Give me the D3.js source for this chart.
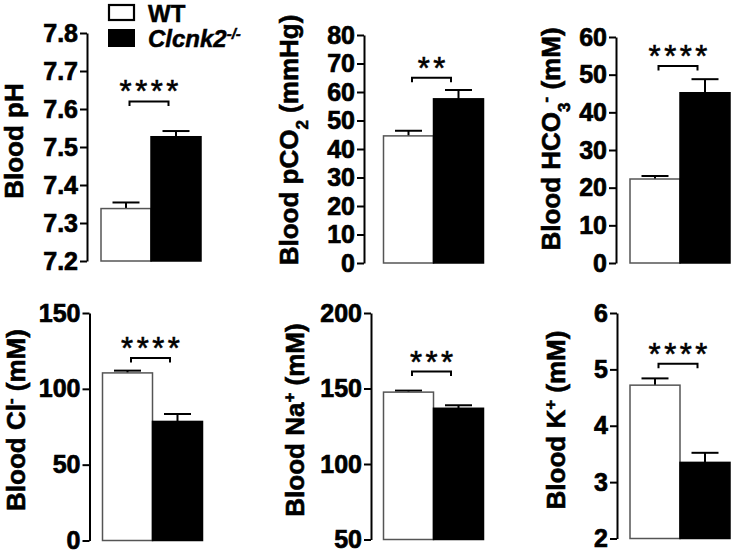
<!DOCTYPE html>
<html>
<head>
<meta charset="utf-8">
<script src="https://cdn.jsdelivr.net/npm/d3@7"></script>
<style>
  body { margin: 0; background: #fff; }
  svg text { font-family: "Liberation Sans", Arial, sans-serif; fill: #000; }
</style>
</head>
<body>
<div id="chart"></div>
<script>
// values (mean, SEM), WT vs Clcnk2-/-
var groups = ["WT", "Clcnk2-/-"];
var titles = [
  [["Blood pH", ""]],
  [["Blood pCO", ""], ["2", "sub"], [" (mmHg)", ""]],
  [["Blood HCO", ""], ["3", "sub"], ["-", "sup"], [" (mM)", ""]],
  [["Blood Cl", ""], ["-", "sup"], [" (mM)", ""]],
  [["Blood Na", ""], ["+", "sup"], [" (mM)", ""]],
  [["Blood K", ""], ["+", "sup"], [" (mM)", ""]]
];
var yDomains = [[7.2, 7.8], [0, 80], [0, 60], [0, 150], [50, 200], [2, 6]];
var yTicks = [
  [7.2, 7.3, 7.4, 7.5, 7.6, 7.7, 7.8],
  [0, 10, 20, 30, 40, 50, 60, 70, 80],
  [0, 10, 20, 30, 40, 50, 60],
  [0, 50, 100, 150],
  [50, 100, 150, 200],
  [2, 3, 4, 5, 6]
];
var wtMean = [7.338, 44.6, 22.3, 110.5, 147.6, 4.72];
var wtSem  = [0.016, 1.8, 0.8, 1.5, 1.0, 0.12];
var koMean = [7.527, 57.6, 45.2, 78.5, 136.9, 3.35];
var koSem  = [0.015, 3.1, 3.6, 4.9, 2.0, 0.17];
var stars = ["****", "**", "****", "****", "***", "****"];
var bracketAt = [7.62, 65, 52.3, 120.3, 161.2, 5.1];

// panel frames (pixel layout)
var frames = [
  {ax: 87,  top: 33,  bottom: 261, bar: 101, tx: 23,  tc: 141},
  {ax: 364, top: 35,  bottom: 263, bar: 383.5, tx: 298, tc: 140},
  {ax: 616, top: 37,  bottom: 263, bar: 630, tx: 560, tc: 139},
  {ax: 89.5, top: 313, bottom: 540.5, bar: 102.5, tx: 25, tc: 420},
  {ax: 371, top: 313, bottom: 539.5, bar: 383.5, tx: 303.5, tc: 420},
  {ax: 617, top: 313, bottom: 538.5, bar: 630, tx: 565, tc: 420}
];

var svg = d3.select("#chart").append("svg")
  .attr("width", 733)
  .attr("height", 552);

function makePanel(i) {
  var f = frames[i];
  var g = svg.append("g");

  var y = d3.scaleLinear().domain(yDomains[i]).range([f.bottom, f.top]);
  var x = d3.scaleBand().domain(groups).range([f.bar, f.bar + 100]).padding(0);
  var fmt = i == 0 ? d3.format(".1f") : d3.format("d");

  var axis = g.append("g")
    .attr("transform", "translate(" + f.ax + ",0)")
    .call(d3.axisLeft(y).tickValues(yTicks[i]).tickFormat(fmt).tickSize(7).tickSizeOuter(0).tickPadding(2));
  axis.select(".domain").attr("stroke-width", 2);
  axis.selectAll(".tick line").attr("stroke-width", 2);
  axis.selectAll(".tick text")
    .style("font-size", "25px")
    .style("font-weight", "bold")
    .attr("fill", "#000")
    .attr("stroke", "#000")
    .attr("stroke-width", 0.7);

  var rows = [
    {key: groups[0], mean: wtMean[i], sem: wtSem[i], fill: "#fff"},
    {key: groups[1], mean: koMean[i], sem: koSem[i], fill: "#000"}
  ];

  // error bars (upper only), drawn under the bars
  rows.forEach(function(d) {
    var cx = x(d.key) + x.bandwidth() / 2;
    g.append("line")
      .attr("x1", cx).attr("x2", cx)
      .attr("y1", y(d.mean)).attr("y2", y(d.mean + d.sem))
      .attr("stroke", "#000").attr("stroke-width", 2);
    g.append("line")
      .attr("x1", cx - 13.5).attr("x2", cx + 13.5)
      .attr("y1", y(d.mean + d.sem)).attr("y2", y(d.mean + d.sem))
      .attr("stroke", "#000").attr("stroke-width", 2);
  });

  g.selectAll("rect.bar")
    .data(rows)
    .enter().append("rect")
    .attr("class", "bar")
    .attr("x", d => x(d.key))
    .attr("y", d => y(d.mean))
    .attr("width", x.bandwidth())
    .attr("height", d => y(yDomains[i][0]) - y(d.mean))
    .attr("fill", d => d.fill)
    .attr("stroke", d => d.fill == "#fff" ? "#555" : "#000")
    .attr("stroke-width", 1.5);

  // significance bracket
  var mid = x(groups[1]);
  var by = y(bracketAt[i]);
  g.append("path")
    .attr("d", "M" + (mid - 21.5) + "," + (by + 4.5) + "V" + by + "H" + (mid + 17.5) + "V" + (by + 4.5))
    .attr("fill", "none")
    .attr("stroke", "#000")
    .attr("stroke-width", 2);
  g.append("text")
    .attr("x", mid - 2 + 1.75)
    .attr("y", by + 1)
    .attr("text-anchor", "middle")
    .style("font-size", "31px")
    .style("letter-spacing", "3.5px")
    .attr("stroke", "#000")
    .attr("stroke-width", 0.6)
    .text(stars[i]);

  // y title
  var t = g.append("text")
    .attr("transform", "translate(" + f.tx + "," + f.tc + ") rotate(-90)")
    .attr("text-anchor", "middle")
    .style("font-size", "26px")
    .style("font-weight", "bold")
    .attr("stroke", "#000")
    .attr("stroke-width", 0.6);
  titles[i].forEach(function(p) {
    var s = t.append("tspan").text(p[0]);
    if (p[1] == "sub") s.attr("baseline-shift", "sub").style("font-size", "17px");
    if (p[1] == "sup") s.attr("baseline-shift", "super").style("font-size", "17px");
    if (p[1] == "") s.attr("baseline-shift", "baseline");
  });
}

for (var i = 0; i < 6; i++) makePanel(i);

// legend
var legend = svg.append("g");
legend.append("rect")
  .attr("x", 109).attr("y", 5).attr("width", 25).attr("height", 15)
  .attr("fill", "#fff").attr("stroke", "#000").attr("stroke-width", 2.2);
legend.append("rect")
  .attr("x", 108).attr("y", 29).attr("width", 27).attr("height", 18)
  .attr("fill", "#000");
legend.append("text")
  .attr("x", 148).attr("y", 22)
  .style("font-size", "24px").style("font-weight", "bold")
  .attr("stroke", "#000").attr("stroke-width", 0.5)
  .text("WT");
var lt = legend.append("text")
  .attr("x", 148).attr("y", 47)
  .style("font-size", "24px").style("font-weight", "bold").style("font-style", "italic")
  .attr("stroke", "#000").attr("stroke-width", 0.5);
lt.append("tspan").text("Clcnk2");
lt.append("tspan").attr("baseline-shift", "super").style("font-size", "15px").text("-/-");
</script>
</body>
</html>
